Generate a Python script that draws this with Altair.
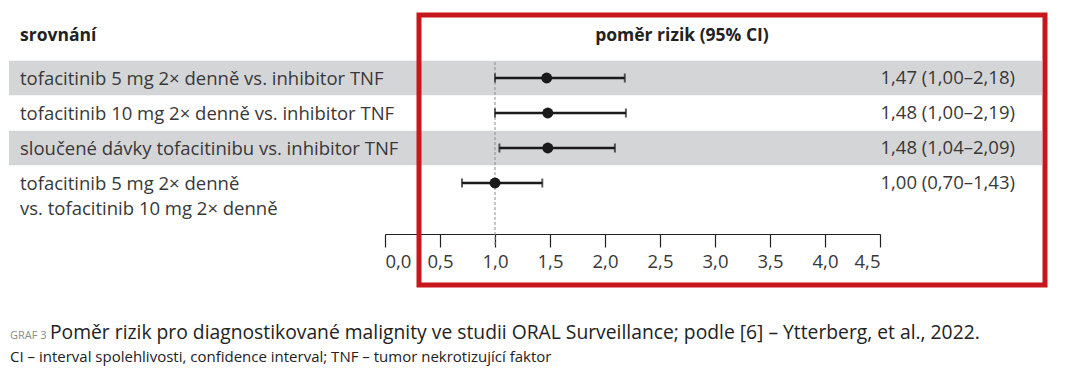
import altair as alt
import pandas as pd

# ---- data ----
labels = [
    "tofacitinib 5 mg 2× denně vs. inhibitor TNF",
    "tofacitinib 10 mg 2× denně vs. inhibitor TNF",
    "sloučené dávky tofacitinibu vs. inhibitor TNF",
    "tofacitinib 5 mg 2× denně\nvs. tofacitinib 10 mg 2× denně",
]
hr = [1.47, 1.48, 1.48, 1.00]
ci_low = [1.00, 1.00, 1.04, 0.70]
ci_high = [2.18, 2.19, 2.09, 1.43]
shaded = [True, False, True, False]
x_ticks = [0.0, 0.5, 1.0, 1.5, 2.0, 2.5, 3.0, 3.5, 4.0, 4.5]
ref_value = [1.0]

header_left = "srovnání"
header_right = "poměr rizik (95% CI)"
caption_tag = "GRAF 3"
caption_main = "Poměr rizik pro diagnostikované malignity ve studii ORAL Surveillance; podle [6] – Ytterberg, et al., 2022."
caption_note = "CI – interval spolehlivosti, confidence interval; TNF – tumor nekrotizující faktor"


def cz(v):
    return f"{v:.2f}".replace(".", ",")


df = pd.DataFrame({
    "row": list(range(len(labels))),
    "label": labels,
    "hr": hr,
    "lo": ci_low,
    "hi": ci_high,
    "shaded": shaded,
    "txt": [f"{cz(h)} ({cz(l)}–{cz(u)})" for h, l, u in zip(hr, ci_low, ci_high)],
})

FONT = "Open Sans"
TXT = "#383838"
INK = "#1a1a1a"

xscale = alt.Scale(domain=[0, 4.5], range=[377, 872], nice=False, zero=False)
yscale = alt.Scale(domain=[0, 3], range=[70, 175], nice=False, zero=False)

base = alt.Chart(df)

bands = base.transform_filter("datum.shaded").transform_calculate(
    y0="datum.row - 0.49", y1="datum.row + 0.49"
).mark_rect(color="#d4d5d7").encode(
    x=alt.value(1), x2=alt.value(1034),
    y=alt.Y("y0:Q", scale=yscale, axis=None), y2="y1:Q",
)

one = pd.DataFrame({"k": [0]})
redbox = alt.Chart(one).mark_rect(
    fillOpacity=0, stroke="#c8161d", strokeWidth=5
).encode(x=alt.value(411), x2=alt.value(1037), y=alt.value(7), y2=alt.value(277))

ref = alt.Chart(pd.DataFrame({"ref": ref_value})).mark_rule(
    color="#8c8c8c", strokeDash=[3, 2], strokeWidth=1
).encode(
    x=alt.X("ref:Q", scale=xscale, axis=alt.Axis(
        values=x_ticks, labelExpr="replace(format(datum.value, '.1f'), '.', ',')",
        title=None, grid=False, domainColor="#222222", tickColor="#222222",
        domainWidth=1.2, tickWidth=1.2, tickSize=13, labelFontSize=18.5,
        labelColor=TXT, labelFont=FONT, labelPadding=5,
    )),
    y=alt.value(54), y2=alt.value(238),
)

whisk = base.mark_rule(color=INK, strokeWidth=2.5).encode(
    x=alt.X("lo:Q", scale=xscale), x2="hi:Q", y=alt.Y("row:Q", scale=yscale, axis=None)
)
cap_lo = base.mark_tick(color=INK, orient="vertical", size=9, thickness=2).encode(
    x=alt.X("lo:Q", scale=xscale), y=alt.Y("row:Q", scale=yscale, axis=None)
)
cap_hi = base.mark_tick(color=INK, orient="vertical", size=9, thickness=2).encode(
    x=alt.X("hi:Q", scale=xscale), y=alt.Y("row:Q", scale=yscale, axis=None)
)
points = base.mark_circle(color=INK, size=120, opacity=1).encode(
    x=alt.X("hr:Q", scale=xscale), y=alt.Y("row:Q", scale=yscale, axis=None)
)

row_labels = base.mark_text(
    align="left", baseline="top", dy=-8, lineBreak="\n", lineHeight=25,
    font=FONT, fontSize=18.5, color=TXT,
).encode(x=alt.value(12), y=alt.Y("row:Q", scale=yscale, axis=None), text="label:N")

values = base.mark_text(
    align="right", baseline="middle", font=FONT, fontSize=18.5, color=TXT,
).encode(x=alt.value(1007), y=alt.Y("row:Q", scale=yscale, axis=None), text="txt:N")


def label(text, x, y, **kw):
    return alt.Chart(pd.DataFrame({"t": [text]})).mark_text(baseline="alphabetic", **kw).encode(
        x=alt.value(x), y=alt.value(y), text="t:N"
    )


h1 = label(header_left, 12, 33, align="left", font=FONT, fontSize=17.5, fontWeight="bold", color="#222222")
h2 = label(header_right, 674, 33, align="center", font=FONT, fontSize=17.5, fontWeight="bold", color="#222222")
c1 = label(caption_tag, 2, 331, align="left", font=FONT, fontSize=11, color="#8a8a8a")
c2 = label(caption_main, 42, 331, align="left", font=FONT, fontSize=19.3, color="#222222")
c3 = label(caption_note, 2, 354, align="left", font=FONT, fontSize=15, color="#222222")

chart = alt.layer(
    bands, redbox, ref, whisk, cap_lo, cap_hi, points, row_labels, values, h1, h2, c1, c2, c3
).properties(
    width=1049, height=226,
    padding={"left": 0, "top": 0, "right": 0, "bottom": 150},
    autosize=alt.AutoSizeParams(type="none"),
).configure_view(strokeWidth=0)

chart.save("out.html", embed_options={"renderer": "svg", "actions": False})
